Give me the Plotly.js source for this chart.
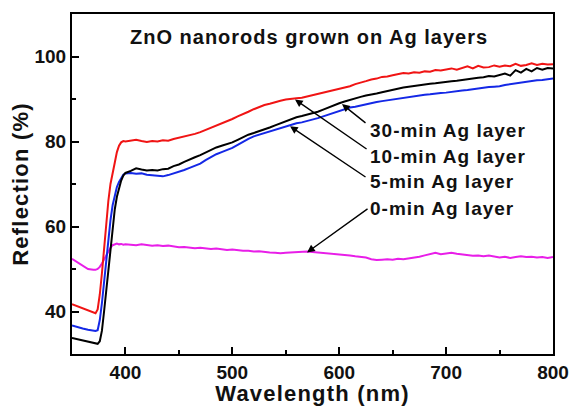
<!DOCTYPE html>
<html><head><meta charset="utf-8">
<script src="https://cdn.plot.ly/plotly-3.0.1.min.js"></script>
<style>
html,body{margin:0;padding:0;background:#fff;}
#chart{width:572px;height:406px;}
.annotation-text{letter-spacing:1px;}
.xtitle,.ytitle{letter-spacing:1.2px;}
</style>
</head><body>
<div id="chart"></div>
<script>
// Wavelength (nm)
const wavelength = [350,355,360,365,370,372,374,376,378,380,382,384,386,388,390,392,394,396,398,400,
405,410,415,420,425,430,435,440,445,450,455,460,465,470,475,480,485,490,495,500,
505,510,515,520,525,530,535,540,545,550,555,560,565,570,575,580,585,590,595,600,
605,610,615,620,625,630,635,640,645,650,655,660,665,670,675,680,685,690,695,700,
705,710,715,720,725,730,735,740,745,750,755,760,765,770,775,780,785,790,795,800];

const ag30 = [41.7,41.2,40.8,40.3,39.8,39.6,40.5,44.0,49.0,55.0,61.0,66.0,70.0,73.0,75.0,77.5,79.0,79.8,80.1,80.0,
80.2,80.4,80.1,79.9,80.1,80.0,80.3,80.2,80.6,80.9,81.2,81.4,81.8,82.2,82.7,83.3,83.7,84.3,84.8,85.3,
85.9,86.4,87.0,87.6,88.1,88.6,88.9,89.3,89.6,89.9,90.1,90.2,90.3,90.6,90.8,91.1,91.4,91.7,92.0,92.3,
92.7,93.0,93.5,93.8,94.2,94.6,94.8,95.2,95.3,95.6,95.8,96.1,96.0,96.3,96.2,96.5,96.4,96.8,96.7,96.9,
97.2,96.9,97.3,97.7,97.2,97.8,97.4,97.5,97.9,97.6,97.9,97.7,98.3,97.8,98.0,98.4,98.0,98.3,98.1,98.2];

const ag10 = [33.8,33.5,33.3,33.0,32.7,32.5,32.4,33.0,35.5,40.0,45.0,50.0,55.0,60.0,64.0,67.0,69.0,70.8,72.0,72.6,
73.1,73.7,73.4,73.2,73.3,73.2,73.5,73.6,74.2,74.6,75.2,75.8,76.3,76.8,77.4,78.0,78.6,79.0,79.4,79.8,
80.4,81.0,81.6,82.0,82.4,82.8,83.3,83.8,84.3,84.8,85.3,85.7,86.0,86.3,86.6,87.0,87.5,88.0,88.6,89.0,
89.4,89.8,90.2,90.5,90.8,91.0,91.3,91.6,91.9,92.2,92.5,92.7,92.9,93.1,93.3,93.4,93.6,93.7,93.9,94.0,
94.2,94.3,94.5,94.6,94.8,95.0,95.1,95.4,95.3,95.7,96.0,95.5,96.8,96.2,97.1,96.5,97.3,96.9,97.3,97.2];

const ag5 = [36.7,36.3,36.0,35.7,35.5,35.4,35.6,38.0,42.0,47.0,52.0,57.0,61.5,65.0,67.5,69.3,70.5,71.5,72.2,72.5,
72.6,72.4,72.5,72.2,72.1,72.0,71.8,72.1,72.5,72.8,73.3,73.8,74.3,74.8,75.6,76.4,77.0,77.5,78.0,78.5,
79.2,80.0,80.6,81.2,81.6,82.0,82.4,82.8,83.2,83.6,84.0,84.3,84.5,84.8,85.1,85.5,85.9,86.3,86.8,87.2,
87.6,88.0,88.2,88.5,88.8,89.0,89.3,89.5,89.7,89.9,90.1,90.3,90.4,90.6,90.8,91.0,91.1,91.3,91.4,91.5,
91.7,91.8,92.0,92.1,92.3,92.5,92.6,92.8,92.9,93.0,93.3,93.5,93.6,93.8,94.0,94.2,94.4,94.5,94.7,94.8];

const ag0 = [52.4,51.6,50.8,50.0,49.8,49.8,50.0,50.5,51.3,52.3,53.3,54.2,55.0,55.6,55.9,56.0,55.8,55.9,55.7,55.8,
55.7,55.6,55.8,55.6,55.5,55.6,55.4,55.5,55.3,55.1,55.2,55.0,54.9,55.0,54.8,54.7,54.8,54.6,54.5,54.6,
54.4,54.3,54.3,54.1,54.2,54.0,53.9,53.8,53.7,53.8,53.9,54.0,54.0,54.1,54.0,53.9,53.7,53.6,53.5,53.4,
53.3,53.2,53.0,52.8,52.7,52.3,52.1,52.2,52.3,52.2,52.4,52.3,52.5,52.6,52.9,53.2,53.5,53.8,53.5,53.6,
53.8,53.6,53.4,53.3,53.1,53.2,53.0,53.2,52.9,52.7,52.9,52.6,52.8,53.0,52.8,52.9,52.7,52.8,52.6,52.8];

const seriesNames = ["30-min Ag layer","10-min Ag layer","5-min Ag layer","0-min Ag layer"];
const chartTitle = "ZnO nanorods grown on Ag layers";
const xTitle = "Wavelength (nm)";
const yTitle = "Reflection (%)";

const FONT = "Arial, 'Liberation Sans', sans-serif";

const traces = [
  {x: wavelength, y: ag0, name: seriesNames[3], mode: "lines", line: {color: "#e81ee8", width: 2}},
  {x: wavelength, y: ag5, name: seriesNames[2], mode: "lines", line: {color: "#1428e6", width: 2}},
  {x: wavelength, y: ag10, name: seriesNames[1], mode: "lines", line: {color: "#000000", width: 2}},
  {x: wavelength, y: ag30, name: seriesNames[0], mode: "lines", line: {color: "#f01414", width: 2}}
];

function arrow(hx, hy, tx, ty) {
  return {x: hx, y: hy, ax: tx, ay: ty, xref: "x", yref: "y", axref: "x", ayref: "y",
    text: "", showarrow: true, arrowhead: 2, arrowsize: 1.1, arrowwidth: 1.4, arrowcolor: "#000"};
}
function label(txt, x, y) {
  return {x: x, y: y, xref: "x", yref: "y", text: "<b>" + txt + "</b>", showarrow: false,
    xanchor: "left", yanchor: "middle", font: {family: FONT, size: 19, color: "#111"}};
}

const annotations = [
  {x: 0.493, y: 0.932, xref: "paper", yref: "paper", text: "<b>" + chartTitle + "</b>", showarrow: false,
   xanchor: "center", yanchor: "middle", font: {family: FONT, size: 20, color: "#111"}},
  arrow(602.6, 88.8, 626, 84.1),
  arrow(558.6, 89.9, 627, 78.0),
  arrow(554, 83.6, 626, 71.4),
  arrow(569.9, 53.9, 627.9, 64.4),
  label(seriesNames[0], 626.5, 82.7),
  label(seriesNames[1], 626.5, 76.4),
  label(seriesNames[2], 626.5, 70.5),
  label(seriesNames[3], 626.5, 64.3)
];

const layout = {
  width: 572, height: 406,
  margin: {l: 72, r: 19, t: 14, b: 52},
  paper_bgcolor: "#fff", plot_bgcolor: "#fff",
  showlegend: false,
  font: {family: FONT, color: "#111"},
  xaxis: {
    range: [350, 800], tickvals: [400, 500, 600, 700, 800],
    ticks: "inside", ticklen: 7, tickwidth: 2, tickcolor: "#000",
    minor: {tickvals: [450, 550, 650, 750], ticks: "inside", ticklen: 4, tickwidth: 2, tickcolor: "#000"},
    showline: true, linecolor: "#000", linewidth: 2, mirror: true,
    showgrid: false, zeroline: false,
    tickfont: {family: FONT, size: 19, color: "#111", weight: "bold"},
    title: {text: "<b>" + xTitle + "</b>", font: {family: FONT, size: 22, color: "#111"}, standoff: 4}
  },
  yaxis: {
    range: [30, 110], tickvals: [40, 60, 80, 100],
    ticks: "inside", ticklen: 7, tickwidth: 2, tickcolor: "#000",
    minor: {tickvals: [50, 70, 90], ticks: "inside", ticklen: 4, tickwidth: 2, tickcolor: "#000"},
    showline: true, linecolor: "#000", linewidth: 2, mirror: true,
    showgrid: false, zeroline: false,
    tickfont: {family: FONT, size: 19, color: "#111", weight: "bold"},
    title: {text: "<b>" + yTitle + "</b>", font: {family: FONT, size: 22, color: "#111"}, standoff: 0}
  },
  annotations: annotations
};

Plotly.newPlot("chart", traces, layout, {staticPlot: true, displayModeBar: false});
</script>
</body></html>
